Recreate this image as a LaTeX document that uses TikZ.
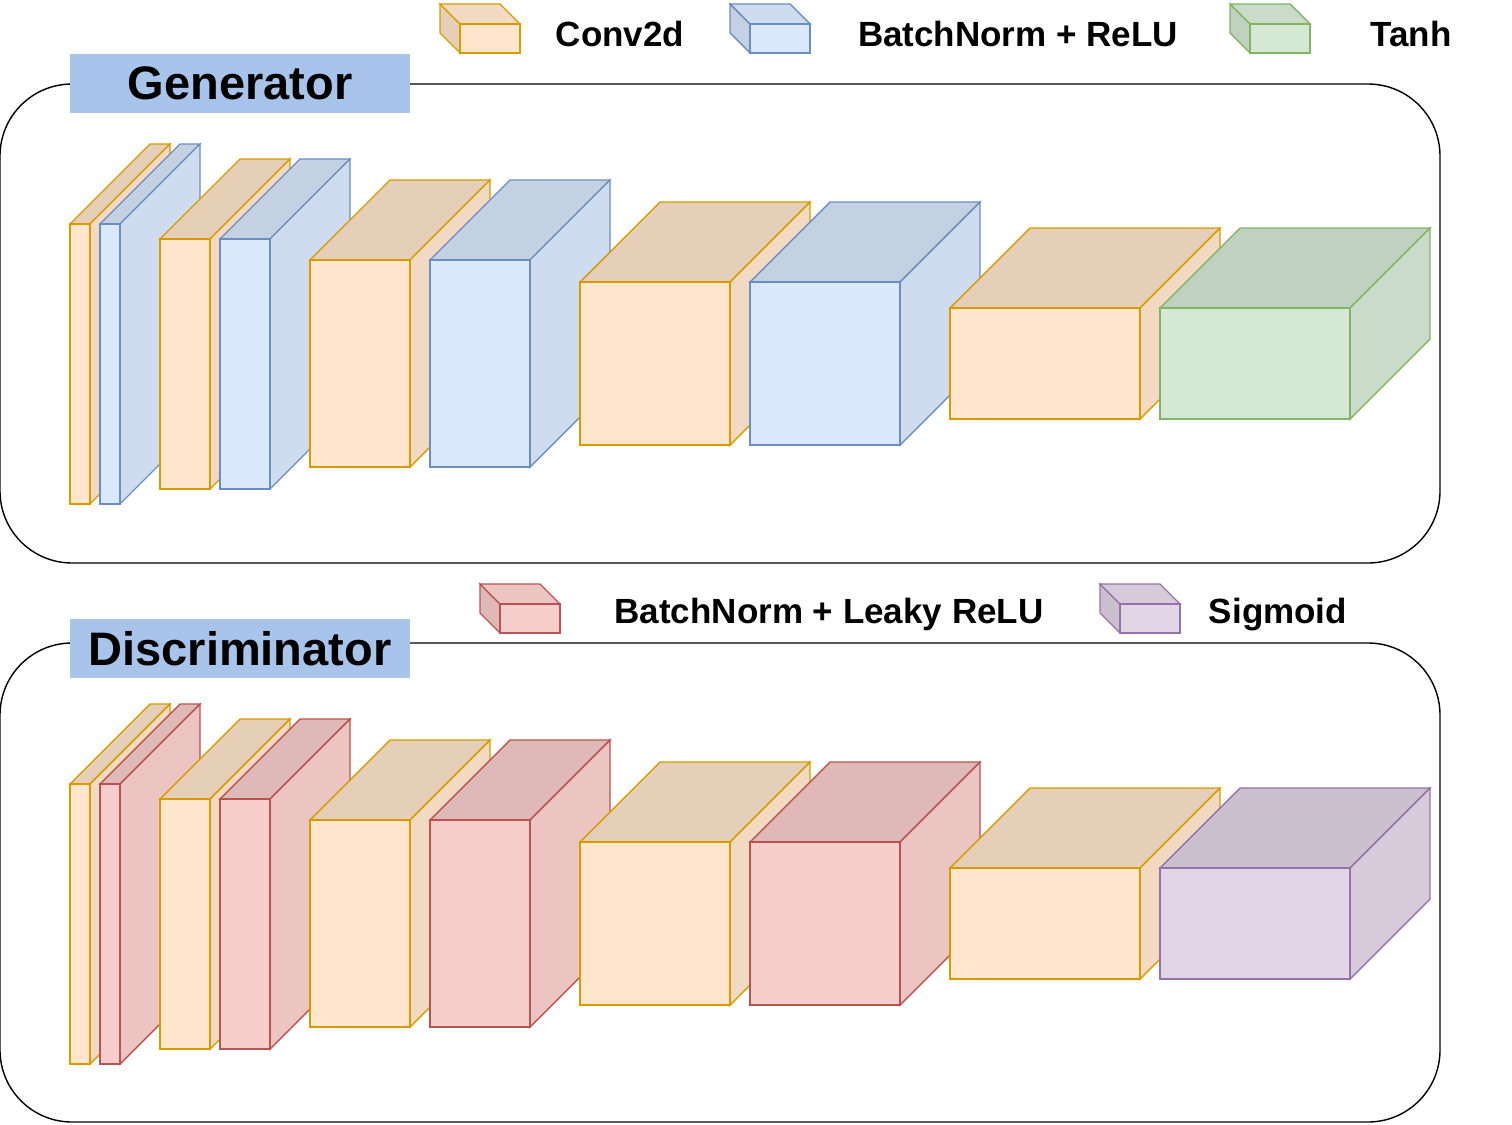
\documentclass[tikz,border=0pt]{standalone}
\usepackage{fontspec}
\setmainfont{Liberation Sans}
\usepackage{tikz}

\definecolor{convfill}{HTML}{FFE6CC}
\definecolor{convline}{HTML}{D79B00}
\definecolor{bnfill}{HTML}{DAE8FC}
\definecolor{bnline}{HTML}{6C8EBF}
\definecolor{tanhfill}{HTML}{D5E8D4}
\definecolor{tanhline}{HTML}{82B366}
\definecolor{lrelufill}{HTML}{F8CECC}
\definecolor{lreluline}{HTML}{B85450}
\definecolor{sigmfill}{HTML}{E1D5E7}
\definecolor{sigmline}{HTML}{9673A6}
\definecolor{titlefill}{HTML}{A9C4EB}

\tikzset{%
  panel/.style={draw=black,line width=1.4pt,rounded corners=72pt},
  titlebox/.style={fill=titlefill,inner sep=0pt,minimum width=340pt,minimum height=59pt,font=\fontsize{47}{52}\selectfont\bfseries},
  legendtext/.style={anchor=base,inner sep=0pt,font=\fontsize{35}{40}\selectfont\bfseries},
  face/.style={line width=1.4pt,line join=miter}
}

% layer block: kind, x, y, width, height (depth 80 to the upper right)
\newcommand{\cuboid}[5]{%
  \filldraw[face,draw=#1line,fill=#1fill!90!black] (#2,#3) -- ++(80,-80) -- ++(#4,0) -- ++(-80,80) -- cycle;
  \filldraw[face,draw=#1line,fill=#1fill!95!black] ({#2+#4},#3) -- ++(80,-80) -- ++(0,#5) -- ++(-80,80) -- cycle;
  \filldraw[face,draw=#1line,fill=#1fill] (#2,#3) rectangle ++(#4,#5);
}
% legend block: kind, x, y (depth 20 to the upper left)
\newcommand{\legendcube}[3]{%
  \filldraw[face,draw=#1line,fill=#1fill!90!black] (#2,#3) -- ++(-20,-20) -- ++(0,29) -- ++(20,20) -- cycle;
  \filldraw[face,draw=#1line,fill=#1fill!95!black] (#2,#3) -- ++(-20,-20) -- ++(60,0) -- ++(20,20) -- cycle;
  \filldraw[face,draw=#1line,fill=#1fill] (#2,#3) rectangle ++(60,29);
}

\begin{document}
\begin{tikzpicture}[x=1pt,y=-1pt]
  \useasboundingbox (0,0) rectangle (1512,1124);

  % legend
  \legendcube{conv}{460}{24}
  \node[legendtext] (lconv) at (620,47) {Conv2d};
  \legendcube{bn}{750}{24}
  \node[legendtext] (lbn) at (1018,47) {BatchNorm + ReLU};
  \legendcube{tanh}{1250}{24}
  \node[legendtext] (ltanh) at (1411,47) {Tanh};
  \legendcube{lrelu}{500}{604}
  \node[legendtext] (llrelu) at (829,623) {BatchNorm + Leaky ReLU};
  \legendcube{sigm}{1120}{604}
  \node[legendtext] (lsigm) at (1278,623) {Sigmoid};

  % generator
  \draw[panel] (0,84) rectangle (1440,563);
  \node[titlebox] (gen) at (240,83.5) {Generator};
  \foreach \kind/\x/\y/\w/\h in {conv/70/224/20/280, bn/100/224/20/280,
      conv/160/239/50/250, bn/220/239/50/250, conv/310/260/100/207, bn/430/260/100/207,
      conv/580/282/150/163, bn/750/282/150/163, conv/950/308/190/111, tanh/1160/308/190/111}
    {\cuboid{\kind}{\x}{\y}{\w}{\h}}

  % discriminator
  \draw[panel] (0,643) rectangle (1440,1122);
  \node[titlebox] (disc) at (240,648.5) {Discriminator};
  \foreach \kind/\x/\y/\w/\h in {conv/70/784/20/280, lrelu/100/784/20/280,
      conv/160/799/50/250, lrelu/220/799/50/250, conv/310/820/100/207, lrelu/430/820/100/207,
      conv/580/842/150/163, lrelu/750/842/150/163, conv/950/868/190/111, sigm/1160/868/190/111}
    {\cuboid{\kind}{\x}{\y}{\w}{\h}}
\end{tikzpicture}
\end{document}
